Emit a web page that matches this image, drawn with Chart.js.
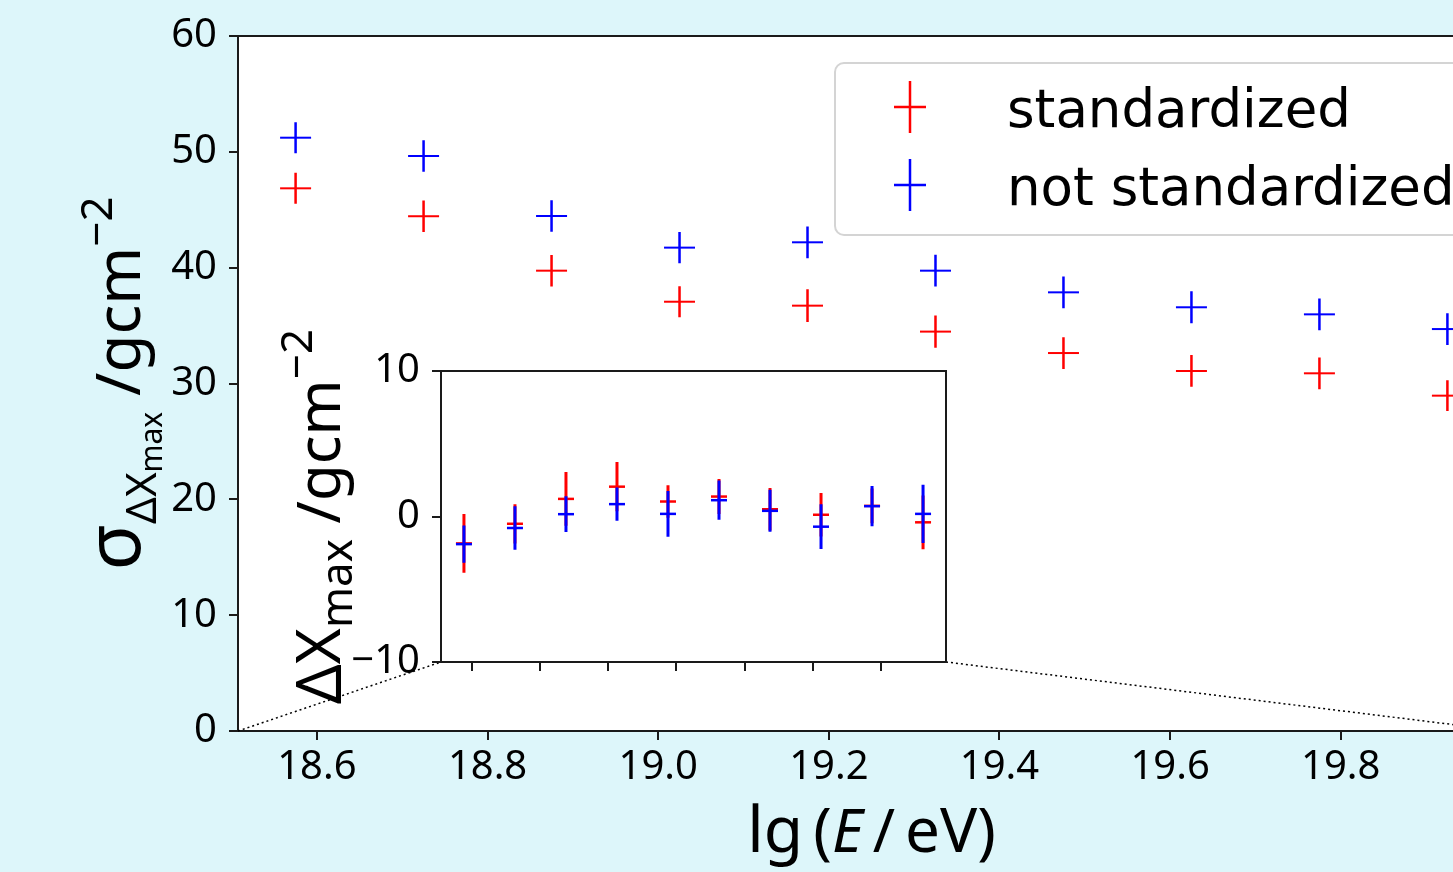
<!DOCTYPE html>
<html>
<head>
<meta charset="utf-8">
<script src="https://cdn.jsdelivr.net/npm/chart.js@4.4.0/dist/chart.umd.min.js"></script>
<style>
html, body { margin: 0; padding: 0; background: #ddf6fa; overflow: hidden; width: 1453px; height: 872px; }
#mainWrap { position: absolute; left: 0; top: 0; }
#insetWrap { position: absolute; left: 280px; top: 300px; }
</style>
</head>
<body>
<div id="mainWrap"><canvas id="mainChart" width="1560" height="872"></canvas></div>
<div id="insetWrap"><canvas id="insetChart" width="700" height="430"></canvas></div>
<script>
// energy bin centres, lg(E/eV)
var energy = [18.575, 18.725, 18.875, 19.025, 19.175, 19.325, 19.475, 19.625, 19.775, 19.925];
var xRange = [18.5075, 19.9925];
var xTicks = [18.6, 18.8, 19.0, 19.2, 19.4, 19.6, 19.8];
var yTicks = [0, 10, 20, 30, 40, 50, 60];
var insetYTicks = [-10, 0, 10];

// resolution sigma of delta Xmax (main panel)
var sigmaStd = [46.85, 44.44, 39.74, 37.06, 36.72, 34.48, 32.63, 31.08, 30.88, 28.95];
var sigmaStdErr = [1.34, 1.36, 1.36, 1.34, 1.41, 1.40, 1.37, 1.37, 1.37, 1.32];
var sigmaNot = [51.22, 49.64, 44.46, 41.73, 42.19, 39.74, 37.87, 36.58, 35.97, 34.70];
var sigmaNotErr = [1.34, 1.36, 1.37, 1.34, 1.37, 1.37, 1.37, 1.38, 1.37, 1.37];

// mean delta Xmax (inset)
var deltaStd = [-1.85, -0.50, 1.21, 2.05, 1.03, 1.37, 0.50, 0.12, 0.73, -0.40];
var deltaStdErr = [2.02, 1.35, 1.85, 1.69, 1.12, 1.20, 1.46, 1.49, 1.20, 1.85];
var deltaNot = [-1.90, -0.79, 0.16, 0.85, 0.18, 1.12, 0.39, -0.70, 0.71, 0.18];
var deltaNotErr = [1.28, 1.50, 1.23, 1.14, 1.58, 1.35, 1.44, 1.54, 1.38, 2.00];

var seriesNames = ['standardized', 'not standardized'];
var seriesColors = ['#ff0000', '#0000ff'];

var tickFont = { family: 'Noto Sans', size: 40 };
var axisColor = '#1a1a1a';

function points(values) {
    return energy.map(function(x, i) { return { x: x, y: values[i] }; });
}

function drawRuns(ctx, runs, cx, baseY) {
    var total = 0;
    runs.forEach(function(r) {
        ctx.font = (r.it ? 'italic ' : '') + r.s + 'px "Noto Sans"';
        r.w = ctx.measureText(r.t).width;
        total += r.w;
    });
    var x = cx - total / 2;
    ctx.textAlign = 'left';
    ctx.textBaseline = 'alphabetic';
    ctx.fillStyle = '#000';
    runs.forEach(function(r) {
        ctx.font = (r.it ? 'italic ' : '') + r.s + 'px "Noto Sans"';
        ctx.fillText(r.t, x, baseY + (r.dy || 0));
        x += r.w;
    });
}

// vertical error bars, drawn right after each dataset
var errorBars = {
    id: 'errorBars',
    afterDatasetDraw: function(chart, args) {
        var ds = chart.data.datasets[args.index];
        if (!ds.errors) return;
        var xs = chart.scales.x, ys = chart.scales.y, ctx = chart.ctx;
        ctx.save();
        ctx.strokeStyle = ds.borderColor;
        ctx.lineWidth = ds.barWidth;
        ctx.beginPath();
        ds.data.forEach(function(p, i) {
            var px = xs.getPixelForValue(p.x);
            ctx.moveTo(px, ys.getPixelForValue(p.y - ds.errors[i]));
            ctx.lineTo(px, ys.getPixelForValue(p.y + ds.errors[i]));
        });
        ctx.stroke();
        ctx.restore();
    }
};

// white axes patch and the box round it
var frame = {
    id: 'frame',
    beforeDraw: function(chart) {
        var a = chart.chartArea, ctx = chart.ctx;
        ctx.save();
        ctx.fillStyle = '#ffffff';
        ctx.fillRect(a.left, a.top, a.right - a.left, a.bottom - a.top);
        ctx.restore();
    },
    afterDraw: function(chart) {
        var a = chart.chartArea, ctx = chart.ctx;
        ctx.save();
        ctx.strokeStyle = axisColor;
        ctx.lineWidth = 2;
        ctx.strokeRect(a.left, a.top, a.right - a.left, a.bottom - a.top);
        ctx.restore();
    }
};

function xScale(showLabels, height) {
    return {
        type: 'linear', min: xRange[0], max: xRange[1],
        afterBuildTicks: function(axis) { axis.ticks = xTicks.map(function(v) { return { value: v }; }); },
        afterFit: function(axis) { axis.height = height; },
        ticks: {
            font: tickFont, color: '#000', padding: 4, maxRotation: 0, autoSkip: false,
            callback: function(v) { return showLabels ? v.toFixed(1) : ''; }
        },
        grid: { drawOnChartArea: false, tickLength: 9, lineWidth: 2, color: axisColor },
        border: { display: true, color: axisColor, width: 2 }
    };
}

function yScale(min, max, ticks, width) {
    return {
        type: 'linear', min: min, max: max,
        afterBuildTicks: function(axis) { axis.ticks = ticks.map(function(v) { return { value: v }; }); },
        afterFit: function(axis) { axis.width = width; },
        ticks: {
            font: tickFont, color: '#000', padding: 12,
            callback: function(v) { return v < 0 ? '\u2212' + Math.abs(v) : String(v); }
        },
        grid: { drawOnChartArea: false, tickLength: 9, lineWidth: 2, color: axisColor },
        border: { display: true, color: axisColor, width: 2 }
    };
}

// ---------- inset ----------
var insetTitle = {
    id: 'insetTitle',
    afterDraw: function(chart) {
        var a = chart.chartArea, ctx = chart.ctx;
        ctx.save();
        ctx.translate(a.left - 101, (a.top + a.bottom) / 2);
        ctx.rotate(-Math.PI / 2);
        drawRuns(ctx, [
            { t: '\u0394X', s: 62 },
            { t: 'max', s: 44, dy: 12 },
            { t: ' /gcm', s: 60 },
            { t: '\u22122', s: 44, dy: -28 }
        ], 0, 0);
        ctx.restore();
    }
};

var insetChart = new Chart(document.getElementById('insetChart'), {
    type: 'scatter',
    data: {
        datasets: [
            { label: seriesNames[0], data: points(deltaStd), errors: deltaStdErr, order: 2,
              borderColor: seriesColors[0], backgroundColor: seriesColors[0],
              pointStyle: 'line', pointRadius: 8, pointHoverRadius: 8, borderWidth: 2.5, barWidth: 3 },
            { label: seriesNames[1], data: points(deltaNot), errors: deltaNotErr, order: 1,
              borderColor: seriesColors[1], backgroundColor: seriesColors[1],
              pointStyle: 'line', pointRadius: 8, pointHoverRadius: 8, borderWidth: 2.5, barWidth: 3 }
        ]
    },
    options: {
        responsive: false, animation: false,
        layout: { padding: { top: 71, right: 34, left: 0, bottom: 0 } },
        plugins: { legend: { display: false }, tooltip: { enabled: false } },
        scales: { x: xScale(false, 68), y: yScale(-10, 10, insetYTicks, 161) }
    },
    plugins: [frame, errorBars, insetTitle]
});

// ---------- main ----------
var mainDecor = {
    id: 'mainDecor',
    afterDraw: function(chart) {
        var a = chart.chartArea, ctx = chart.ctx;
        var xs = chart.scales.x, ys = chart.scales.y;

        // zoom connector lines to the inset corners
        var mr = chart.canvas.getBoundingClientRect();
        var ir = insetChart.canvas.getBoundingClientRect();
        var ia = insetChart.chartArea;
        var dx = ir.left - mr.left, dy = ir.top - mr.top;
        var y0 = ys.getPixelForValue(ys.min);
        ctx.save();
        ctx.strokeStyle = '#000';
        ctx.lineWidth = 1.5;
        ctx.setLineDash([2, 3]);
        ctx.beginPath();
        ctx.moveTo(xs.getPixelForValue(xRange[0]), y0);
        ctx.lineTo(dx + ia.left, dy + ia.bottom);
        ctx.moveTo(dx + ia.right, dy + ia.bottom);
        ctx.lineTo(xs.getPixelForValue(xRange[1]), y0);
        ctx.stroke();
        ctx.restore();

        // legend
        var right = a.right - 26, top = a.top + 27, w = 644, h = 172, r = 9;
        var left = right - w;
        ctx.save();
        ctx.beginPath();
        ctx.moveTo(left + r, top);
        ctx.arcTo(right, top, right, top + h, r);
        ctx.arcTo(right, top + h, left, top + h, r);
        ctx.arcTo(left, top + h, left, top, r);
        ctx.arcTo(left, top, right, top, r);
        ctx.closePath();
        ctx.fillStyle = 'rgba(255,255,255,0.8)';
        ctx.fill();
        ctx.strokeStyle = '#d4d4d4';
        ctx.lineWidth = 2;
        ctx.stroke();
        chart.data.datasets.forEach(function(ds, i) {
            var cx = left + 75, cy = top + 44 + i * 78;
            ctx.strokeStyle = ds.borderColor;
            ctx.lineWidth = 2.5;
            ctx.beginPath();
            ctx.moveTo(cx - 16, cy); ctx.lineTo(cx + 16, cy);
            ctx.moveTo(cx, cy - 26); ctx.lineTo(cx, cy + 26);
            ctx.stroke();
            ctx.fillStyle = '#000';
            ctx.font = '53px "DejaVu Sans"';
            ctx.textAlign = 'left';
            ctx.textBaseline = 'alphabetic';
            ctx.fillText(ds.label, left + 172, cy + 20);
        });
        ctx.restore();

        // axis titles
        ctx.save();
        drawRuns(ctx, [
            { t: 'lg', s: 64 },
            { t: '\u2009(', s: 62 },
            { t: 'E', s: 60, it: true },
            { t: '\u2009/\u2009', s: 60 },
            { t: 'eV', s: 62 },
            { t: ')', s: 62 }
        ], (a.left + a.right) / 2, a.bottom + 121);
        ctx.translate(a.left - 98, (a.top + a.bottom) / 2);
        ctx.rotate(-Math.PI / 2);
        drawRuns(ctx, [
            { t: '\u03c3', s: 76 },
            { t: '\u0394X', s: 42, dy: 16 },
            { t: 'max', s: 30, dy: 22 },
            { t: ' /gcm', s: 62 },
            { t: '\u22122', s: 44, dy: -28 }
        ], 0, 0);
        ctx.restore();
    }
};

var mainChart = new Chart(document.getElementById('mainChart'), {
    type: 'scatter',
    data: {
        datasets: [
            { label: seriesNames[0], data: points(sigmaStd), errors: sigmaStdErr, order: 2,
              borderColor: seriesColors[0], backgroundColor: seriesColors[0],
              pointStyle: 'line', pointRadius: 15.5, pointHoverRadius: 15.5, borderWidth: 2, barWidth: 2.5 },
            { label: seriesNames[1], data: points(sigmaNot), errors: sigmaNotErr, order: 1,
              borderColor: seriesColors[1], backgroundColor: seriesColors[1],
              pointStyle: 'line', pointRadius: 15.5, pointHoverRadius: 15.5, borderWidth: 2, barWidth: 2.5 }
        ]
    },
    options: {
        responsive: false, animation: false,
        layout: { padding: { top: 36, right: 55, left: 0, bottom: 0 } },
        plugins: { legend: { display: false }, tooltip: { enabled: false } },
        scales: { x: xScale(true, 141), y: yScale(0, 60, yTicks, 238) }
    },
    plugins: [frame, errorBars, mainDecor]
});
</script>
</body>
</html>
